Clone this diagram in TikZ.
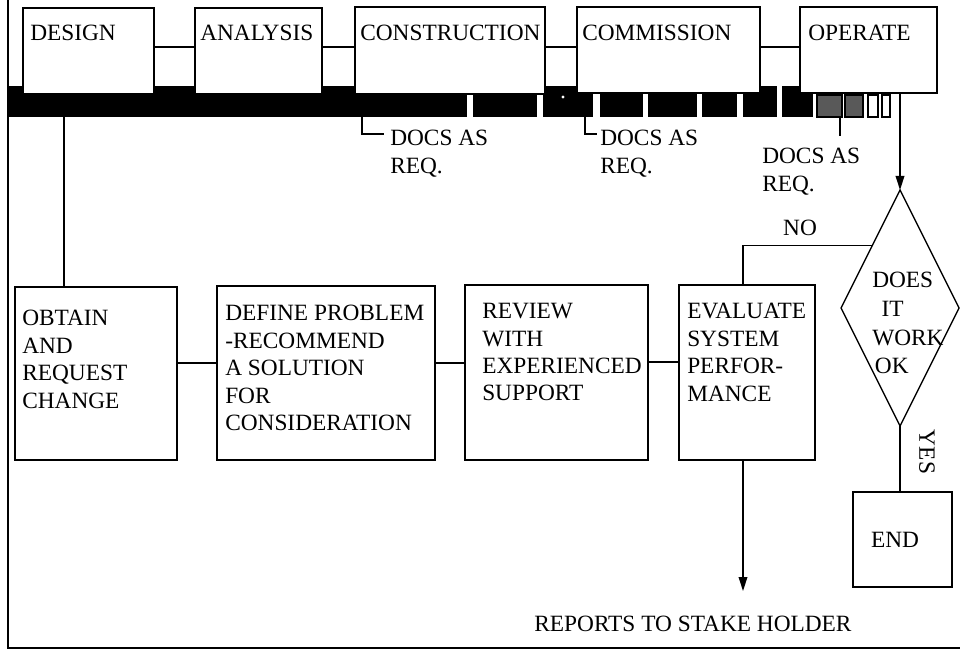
\documentclass[tikz,border=0pt]{standalone}
\usepackage{fontspec}
\setmainfont{Liberation Serif}
\usetikzlibrary{shapes.geometric,arrows.meta,calc}
\begin{document}
\begin{tikzpicture}[x=0.75pt,y=-0.75pt,
  bx/.style 2 args={draw, fill=white, line width=1pt, inner sep=0pt, outer sep=0pt,
    minimum width=#1*0.75pt, minimum height=#2*0.75pt, anchor=north west},
  txt/.style={font=\fontsize{17.5}{20.6}\selectfont, inner sep=0pt, anchor=north west, align=left},
  lbl/.style={font=\fontsize{17.5}{20.6}\selectfont, inner sep=0pt},
  ln/.style={line width=1pt},
  arr/.style={line width=1pt, -{Triangle[length=10.5pt, width=6.5pt]}},
  hatch/.style={fill=black!65, draw=black, line width=1pt},
  hollow/.style={fill=white, draw=black, line width=1pt}
]
\useasboundingbox (0,0) rectangle (960,652);
% frame
\draw[line width=1.6pt] (8,0) -- (8,648) -- (960,648);
% document bar
\fill (8,86) rectangle (467,117);
\fill (473,86) rectangle (537,117);
\fill (543,86) rectangle (593,117);
\fill[white] (563,97) circle (1.2pt);
\fill (600,86) rectangle (643,117);
\fill (648,86) rectangle (697,117);
\fill (702,86) rectangle (737,117);
\fill (743,86) rectangle (777,117);
\fill (782,86) rectangle (813,117);
\filldraw[hatch] (817,95) rectangle (842,117);
\filldraw[hatch] (845,95) rectangle (863,117);
\filldraw[hollow] (868,95) rectangle (878,117);
\filldraw[hollow] (882,95) rectangle (890,117);

% top row boxes
\node[bx={131}{86}] (design) at (23,8) {};
\node[bx={127}{86}] (analysis) at (195,8) {};
\node[bx={190}{87}] (construction) at (355,7) {};
\node[bx={183}{86}] (commission) at (577,7) {};
\node[bx={137}{86}] (operate) at (800,7) {};
\node[txt] (tdesign) at (30,25) {DESIGN};
\node[txt] (tanalysis) at (200,25) {ANALYSIS};
\node[txt] (tconstruction) at (360,25) {CONSTRUCTION};
\node[txt] (tcommission) at (582,25) {COMMISSION};
\node[txt] (toperate) at (808,25) {OPERATE};
\draw[ln] (design.east |- 0,47) -- (analysis.west |- 0,47);
\draw[ln] (analysis.east |- 0,47) -- (construction.west |- 0,47);
\draw[ln] (construction.east |- 0,47) -- (commission.west |- 0,47);
\draw[ln] (commission.east |- 0,47) -- (operate.west |- 0,47);

% docs as required
\coordinate (d1) at (362,117);
\coordinate (d2) at (585,117);
\coordinate (d3) at (840,117);
\node[txt] (docs1) at (390,130) {DOCS AS\\REQ.};
\node[txt] (docs2) at (600,130) {DOCS AS\\REQ.};
\node[txt] (docs3) at (762,148) {DOCS AS\\REQ.};
\draw[ln] (d1) |- (384,134);
\draw[ln] (d2) |- (597,134);
\draw[ln] (d3) -- (840,136);

% bottom row boxes
\node[bx={162}{173}] (obtain) at (15,287) {};
\node[bx={218}{174}] (define) at (217,286) {};
\node[bx={183}{175}] (review) at (465,285) {};
\node[bx={136}{175}] (evaluate) at (679,285) {};
\node[txt] (tobtain) at (22,310) {OBTAIN\\AND\\REQUEST\\CHANGE};
\node[txt] (tdefine) at (225,305) {DEFINE PROBLEM\\-RECOMMEND\\A SOLUTION\\FOR\\CONSIDERATION};
\node[txt] (treview) at (482,303) {REVIEW\\WITH\\EXPERIENCED\\SUPPORT};
\node[txt] (tevaluate) at (687,303) {EVALUATE\\SYSTEM\\PERFOR-\\MANCE};
\draw[ln] (obtain.east |- 0,363) -- (define.west |- 0,363);
\draw[ln] (define.east |- 0,363) -- (review.west |- 0,363);
\draw[ln] (review.east |- 0,362) -- (evaluate.west |- 0,362);

% feedback to design
\draw[arr] (obtain.north -| 64,0) -- (64,100);

% decision
\node[diamond, draw, line width=1pt, inner sep=0pt, outer sep=0pt,
  minimum width=118*0.75pt, minimum height=236*0.75pt] (dia) at (900,308) {};
\node[txt, font=\fontsize{17.5}{21.5}\selectfont] (tdia) at (872,272) {DOES\\\hspace{7pt}IT\\WORK\\\hspace{2pt}OK};
\draw[arr] (dia.north |- operate.south) -- (dia.north);

% NO branch
\coordinate (nopt) at ($(dia.north)!0.47!(dia.west)$);
\draw[ln] (nopt) -- (743,0 |- nopt) -- (743,0 |- evaluate.north);
\node[lbl] (no) at (800,228) {NO};

% YES branch
\node[bx={99}{95}] (end) at (853,492) {};
\node[lbl] (tend) at (895,540) {END};
\draw[ln] (dia.south) -- (dia.south |- end.north);
\node[lbl, rotate=-90] (yes) at (927,452) {YES};

% reports
\node[lbl] (reports) at (693,624) {REPORTS TO STAKE HOLDER};
\coordinate (repin) at (743,591);
\draw[arr] (743,0 |- evaluate.south) -- (repin);
\end{tikzpicture}
\end{document}
